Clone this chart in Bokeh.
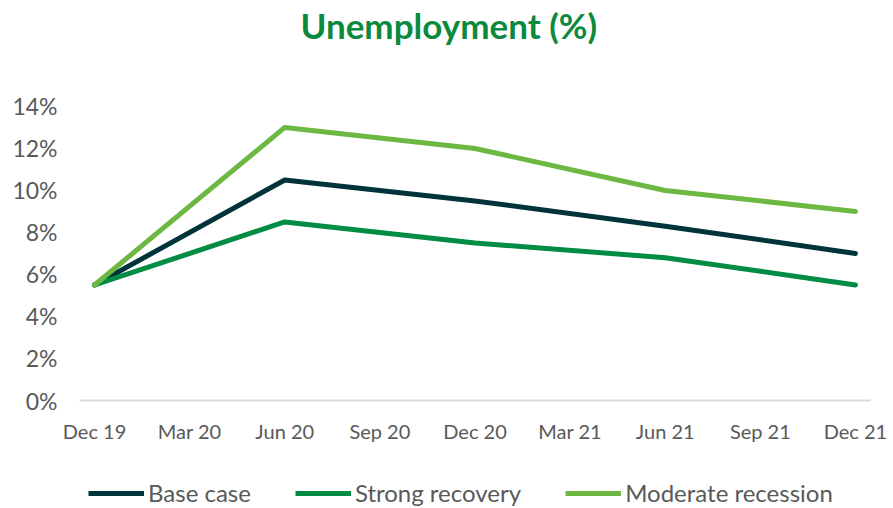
from bokeh.plotting import figure
from bokeh.layouts import column
from bokeh.models import Range1d, FixedTicker, Legend, LegendItem
from bokeh.embed import file_html
from bokeh.resources import INLINE

periods = ["Dec 19", "Mar 20", "Jun 20", "Sep 20", "Dec 20", "Mar 21", "Jun 21", "Sep 21", "Dec 21"]
data_idx = [0, 2, 4, 6, 8]
base_case = [5.5, 10.5, 9.5, 8.3, 7.0]
strong_recovery = [5.5, 8.5, 7.5, 6.8, 5.5]
moderate_recession = [5.5, 13.0, 12.0, 10.0, 9.0]
y_ticks = [0, 2, 4, 6, 8, 10, 12, 14]
series_names = ["Base case", "Strong recovery", "Moderate recession"]
series_colors = ["#00343a", "#008c45", "#6cb843"]
title_text = "Unemployment (%)"
values = [base_case, strong_recovery, moderate_recession]


def strip(height, **kw):
    # helper strip whose ranges lie away from the data, so only its annotations show
    f = figure(width=893, height=height, output_backend="svg", toolbar_location=None,
               x_axis_type=None, y_axis_type=None,
               x_range=Range1d(100, 101), y_range=Range1d(100, 101),
               min_border_left=79, min_border_right=23, min_border_bottom=0, **kw)
    f.grid.visible = False
    f.outline_line_color = None
    f.background_fill_color = "white"
    f.border_fill_color = "white"
    return f


# title strip
t = strip(50, min_border_top=45)
t.title.text = title_text
t.title.align = "left"
t.title.offset = 221
t.title.standoff = 0
t.title.text_font = "Lato"
t.title.text_font_style = "bold"
t.title.text_font_size = "35px"
t.title.text_color = "#0b8a3e"

# main chart
p = figure(width=893, height=420, output_backend="svg", toolbar_location=None,
           x_range=Range1d(-0.158, 8.158), y_range=Range1d(0, 14.52),
           min_border_left=79, min_border_right=23, min_border_top=45, min_border_bottom=70)
p.outline_line_color = None
p.background_fill_color = "white"
p.border_fill_color = "white"
p.xgrid.grid_line_color = None
p.ygrid.grid_line_color = None

p.xaxis.ticker = FixedTicker(ticks=list(range(len(periods))))
p.xaxis.major_label_overrides = {i: s for i, s in enumerate(periods)}
p.xaxis.major_tick_line_color = None
p.xaxis.minor_tick_line_color = None
p.xaxis.axis_line_color = "#d9d9d9"
p.xaxis.axis_line_width = 2
p.xaxis.major_label_text_font = "Lato"
p.xaxis.major_label_text_font_size = "20px"
p.xaxis.major_label_text_color = "#595959"
p.xaxis.major_label_standoff = 12

p.yaxis.ticker = FixedTicker(ticks=y_ticks)
p.yaxis.major_label_overrides = {v: f"{v}%" for v in y_ticks}
p.yaxis.major_tick_line_color = None
p.yaxis.minor_tick_line_color = None
p.yaxis.axis_line_color = None
p.yaxis.major_label_text_font = "Lato"
p.yaxis.major_label_text_font_size = "23px"
p.yaxis.major_label_text_color = "#595959"
p.yaxis.major_label_standoff = 16

for vals, col in zip(values, series_colors):
    p.line(data_idx, vals, line_color=col, line_width=5, line_join="round", line_cap="round")

# legend strip below the chart (same series, drawn outside its visible range)
q = strip(38, min_border_top=0)
items = []
for name, vals, col in zip(series_names, values, series_colors):
    r = q.line(data_idx, vals, line_color=col, line_width=5)
    items.append(LegendItem(label=name, renderers=[r]))

legend = Legend(items=items, orientation="horizontal", location=(9, 1))
legend.border_line_color = None
legend.background_fill_alpha = 0
legend.padding = 0
legend.margin = 0
legend.spacing = 44
legend.glyph_width = 56
legend.glyph_height = 24
legend.label_height = 24
legend.label_standoff = 4
legend.label_text_font = "Lato"
legend.label_text_font_size = "24px"
legend.label_text_color = "#595959"
q.add_layout(legend, "center")

layout = column(t, p, q, spacing=0)
open("out.html", "w").write(file_html(layout, INLINE))
